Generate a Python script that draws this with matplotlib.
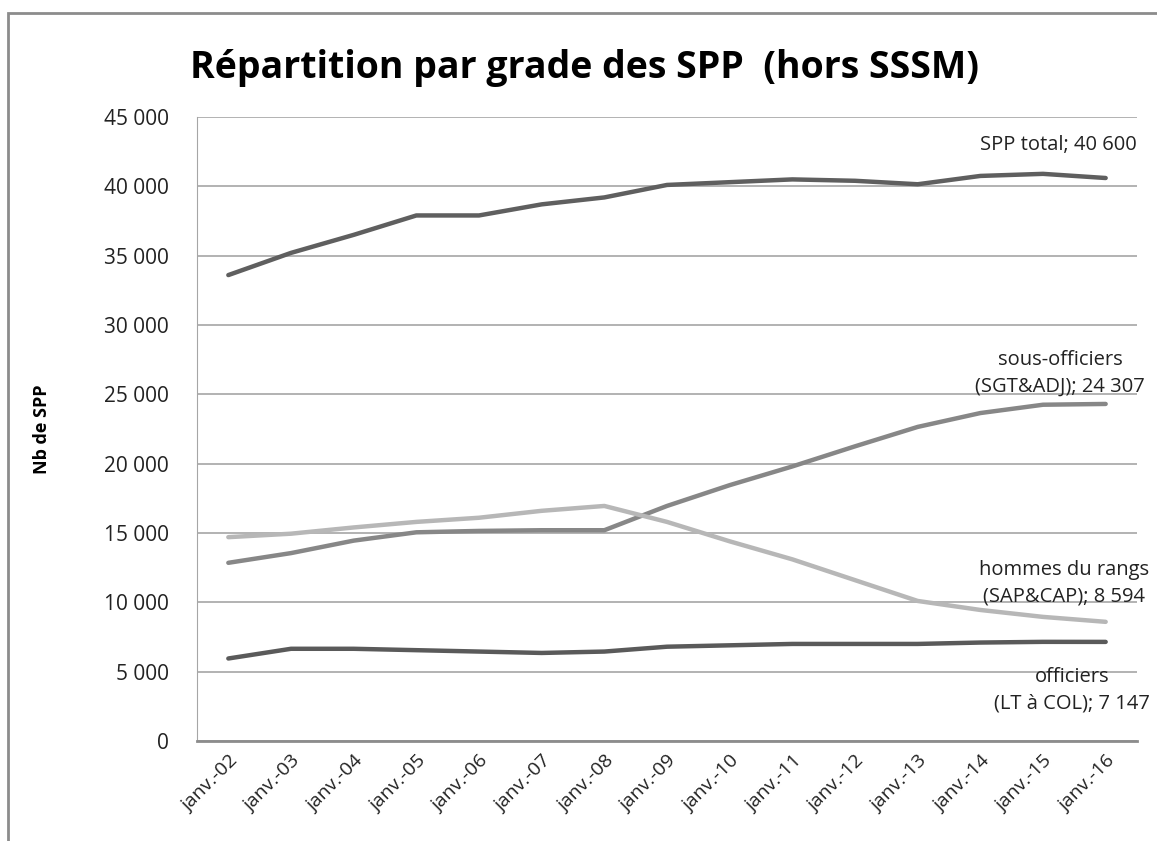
import matplotlib.pyplot as plt
from matplotlib.patches import Rectangle
from matplotlib.ticker import FuncFormatter

plt.rcParams['font.family'] = ['Open Sans', 'DejaVu Sans']

annees = ['janv.-02', 'janv.-03', 'janv.-04', 'janv.-05', 'janv.-06', 'janv.-07', 'janv.-08',
          'janv.-09', 'janv.-10', 'janv.-11', 'janv.-12', 'janv.-13', 'janv.-14', 'janv.-15', 'janv.-16']

spp_total = [33600, 35200, 36500, 37900, 37900, 38700, 39200, 40100, 40300, 40500, 40400, 40150, 40750, 40900, 40600]
sous_off = [12850, 13550, 14450, 15050, 15150, 15200, 15200, 16950, 18450, 19800, 21250, 22650, 23650, 24250, 24307]
hommes_rang = [14700, 14950, 15400, 15800, 16100, 16600, 16950, 15800, 14400, 13100, 11600, 10100, 9450, 8950, 8594]
officiers = [5950, 6650, 6650, 6550, 6450, 6350, 6450, 6800, 6900, 7000, 7000, 7000, 7100, 7150, 7147]

fig = plt.figure(figsize=(11.57, 8.41), dpi=100)
fig.patches.append(Rectangle((8/1157, -0.1), 1.2, (841-13)/841 + 0.1, transform=fig.transFigure,
                             fill=False, edgecolor='#8c8c8c', linewidth=2))
ax = fig.add_axes([197/1157, 100/841, 940/1157, 624/841])

x = range(len(annees))
ax.plot(x, spp_total, color='#5f5f5f', linewidth=3.2, solid_capstyle='round')
ax.plot(x, sous_off, color='#878787', linewidth=3.2, solid_capstyle='round')
ax.plot(x, hommes_rang, color='#b7b7b7', linewidth=3.2, solid_capstyle='round')
ax.plot(x, officiers, color='#5a5a5a', linewidth=3.2, solid_capstyle='round')

ax.set_xlim(-0.5, len(annees) - 0.5)
ax.set_ylim(0, 45000)
ax.set_yticks(range(0, 45001, 5000))
ax.yaxis.set_major_formatter(FuncFormatter(lambda v, p: f'{int(v):,}'.replace(',', ' ')))
ax.set_xticks(list(x))
ax.set_xticklabels(annees, rotation=45, ha='right', rotation_mode='anchor', fontsize=14, color='#222222')
ax.tick_params(axis='y', labelsize=15, colors='#222222', length=0, pad=20)
ax.tick_params(axis='x', length=0, pad=8)
ax.grid(axis='y', color='#a6a6a6', linewidth=1.2)
ax.set_axisbelow(True)
for s in ['top', 'right']:
    ax.spines[s].set_visible(False)
ax.spines['left'].set_color('#a6a6a6')
ax.spines['bottom'].set_color('#8c8c8c')
ax.spines['bottom'].set_linewidth(2)

ax.set_ylabel('Nb de SPP', fontsize=13, fontweight='bold', labelpad=38)

fig.text(585/1157, 1 - 68/841, 'Répartition par grade des SPP  (hors SSSM)', fontsize=27,
         fontweight='bold', ha='center', va='center')

lab = dict(fontsize=14.5, color='#222222', ha='center', va='center', transform=fig.transFigure, linespacing=1.45)
fig.text(1058/1157, 1 - 145/841, 'SPP total; 40 600', **lab)
fig.text(1060/1157, 1 - 373/841, 'sous-officiers\n(SGT&ADJ); 24 307', **lab)
fig.text(1064/1157, 1 - 583/841, 'hommes du rangs\n(SAP&CAP); 8 594', **lab)
fig.text(1072/1157, 1 - 690/841, 'officiers\n(LT à COL); 7 147', **lab)

fig.savefig('out.png', dpi=100)
